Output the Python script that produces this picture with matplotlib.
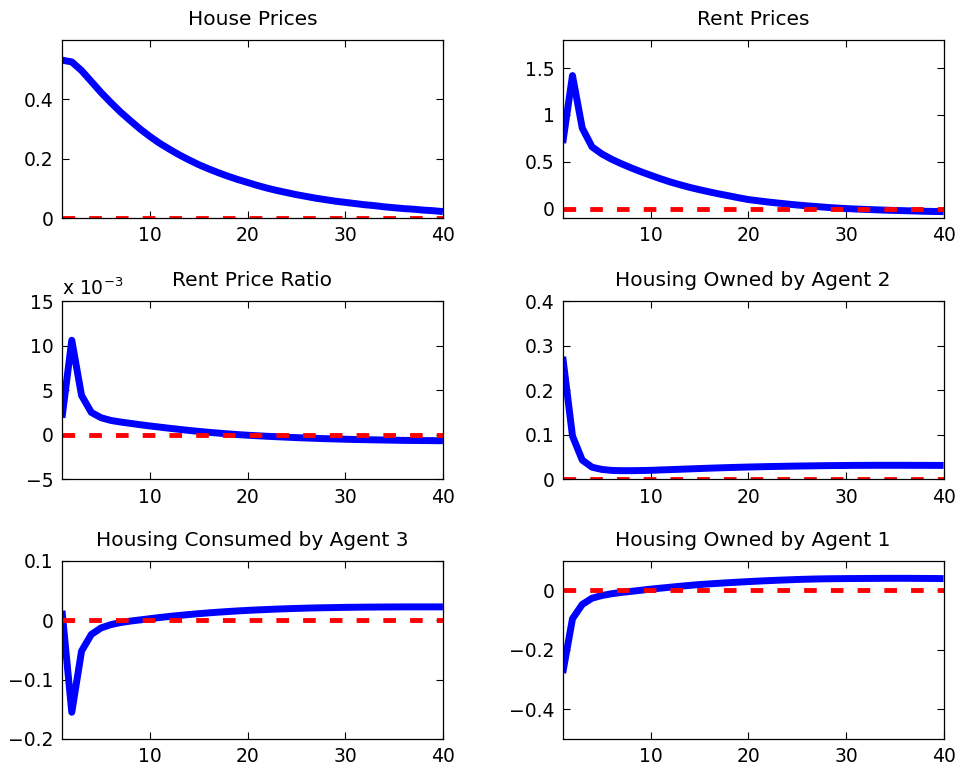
import numpy as np
import matplotlib
matplotlib.use("Agg")
import matplotlib.pyplot as plt
from matplotlib.ticker import FuncFormatter

plt.rcParams['font.family'] = ['DejaVu Sans']

# === 1. Impulse responses (periods 1..40) ===
periods = list(range(1, 41))

house_prices = [0.532, 0.526, 0.497, 0.460, 0.423, 0.389, 0.357, 0.328, 0.300, 0.275,
                0.252, 0.232, 0.213, 0.196, 0.180, 0.166, 0.153, 0.141, 0.130, 0.120,
                0.110, 0.101, 0.093, 0.086, 0.079, 0.073, 0.067, 0.062, 0.057, 0.053,
                0.049, 0.045, 0.042, 0.038, 0.035, 0.032, 0.030, 0.027, 0.025, 0.022]

rent_prices = [0.70, 1.42, 0.86, 0.66, 0.585, 0.528, 0.48, 0.436, 0.395, 0.357,
               0.32, 0.286, 0.256, 0.228, 0.203, 0.18, 0.158, 0.138, 0.117, 0.098,
               0.085, 0.072, 0.061, 0.050, 0.040, 0.031, 0.023, 0.015, 0.008, 0.002,
               -0.003, -0.007, -0.011, -0.015, -0.018, -0.021, -0.024, -0.027, -0.029, -0.031]

rent_price_ratio = [1.9e-3, 10.6e-3, 4.4e-3, 2.5e-3, 1.9e-3, 1.6e-3, 1.42e-3, 1.27e-3, 1.12e-3, 0.98e-3,
                    0.85e-3, 0.72e-3, 0.60e-3, 0.48e-3, 0.37e-3, 0.27e-3, 0.18e-3, 0.09e-3, 0.01e-3, -0.06e-3,
                    -0.12e-3, -0.18e-3, -0.23e-3, -0.28e-3, -0.33e-3, -0.37e-3, -0.41e-3, -0.45e-3, -0.48e-3, -0.51e-3,
                    -0.54e-3, -0.56e-3, -0.58e-3, -0.60e-3, -0.62e-3, -0.64e-3, -0.65e-3, -0.66e-3, -0.67e-3, -0.68e-3]

owned_agent2 = [0.275, 0.097, 0.043, 0.027, 0.022, 0.0198, 0.0192, 0.0192, 0.0195, 0.020,
                0.0208, 0.0216, 0.0224, 0.0232, 0.024, 0.0248, 0.0255, 0.0262, 0.0268, 0.0274,
                0.0279, 0.0284, 0.0288, 0.0292, 0.0296, 0.0299, 0.0302, 0.0305, 0.0307, 0.0309,
                0.0311, 0.0312, 0.0313, 0.0313, 0.0313, 0.0313, 0.0312, 0.0312, 0.0311, 0.031]

consumed_agent3 = [0.016, -0.155, -0.052, -0.024, -0.013, -0.0075, -0.004, -0.0015, 0.0005, 0.0025,
                   0.0045, 0.0063, 0.008, 0.0095, 0.011, 0.0123, 0.0135, 0.0146, 0.0156, 0.0165,
                   0.0173, 0.018, 0.0187, 0.0193, 0.0198, 0.0203, 0.0207, 0.021, 0.0213, 0.0216,
                   0.0218, 0.022, 0.0221, 0.0222, 0.0223, 0.0224, 0.0224, 0.0224, 0.0224, 0.0224]

owned_agent1 = [-0.278, -0.095, -0.047, -0.026, -0.017, -0.011, -0.0065, -0.003, 0.0008, 0.0045,
                0.0078, 0.011, 0.0142, 0.0172, 0.020, 0.0222, 0.0243, 0.0263, 0.0282, 0.030,
                0.0316, 0.0331, 0.0345, 0.0358, 0.037, 0.038, 0.0388, 0.0394, 0.0398, 0.0401,
                0.0403, 0.0405, 0.0407, 0.0409, 0.041, 0.041, 0.0408, 0.0406, 0.0404, 0.040]

titles = ["House Prices", "Rent Prices", "Rent Price Ratio",
          "Housing Owned by Agent 2", "Housing Consumed by Agent 3", "Housing Owned by Agent 1"]
series = [house_prices, rent_prices, rent_price_ratio,
          owned_agent2, consumed_agent3, owned_agent1]
ylims = [(0, 0.6), (-0.1, 1.8), (-5e-3, 15e-3), (0, 0.4), (-0.2, 0.1), (-0.5, 0.1)]
yticks = [[0, 0.2, 0.4], [0, 0.5, 1, 1.5], [-5e-3, 0, 5e-3, 10e-3, 15e-3],
          [0, 0.1, 0.2, 0.3, 0.4], [-0.2, -0.1, 0, 0.1], [-0.4, -0.2, 0]]

# === 2. Plot ===
fig = plt.figure(figsize=(9.57, 7.68), dpi=100)
lefts = [0.0648, 0.588]
bottoms = [0.716, 0.376, 0.0378]

for i, (title, y) in enumerate(zip(titles, series)):
    row, col = divmod(i, 2)
    ax = fig.add_axes([lefts[col], bottoms[row], 0.398, 0.232])
    ax.plot(periods, y, color='#0000ff', lw=5, solid_capstyle='butt')
    ax.plot(periods, np.zeros(len(periods)), color='#ff0000', lw=3.5,
            dashes=(2.6, 2.9), dash_capstyle='butt')
    ax.set_xlim(1, 40)
    ax.set_ylim(*ylims[i])
    ax.set_xticks([10, 20, 30, 40])
    ax.set_yticks(yticks[i])
    ax.set_title(title, fontsize=14.5, pad=11)
    ax.tick_params(direction='in', top=True, right=True, length=5, width=0.8,
                   labelsize=13.5, pad=6)
    for s in ax.spines.values():
        s.set_linewidth(0.9)
    if i == 2:
        ax.yaxis.set_major_formatter(FuncFormatter(lambda v, p: f"{v * 1e3:g}".replace('-', '\u2212')))
        ax.text(0.0, 1.01, r"x 10$^{-3}$", transform=ax.transAxes,
                ha='left', va='bottom', fontsize=13.5)
    else:
        ax.yaxis.set_major_formatter(FuncFormatter(lambda v, p: f"{v:g}".replace('-', '\u2212')))

plt.savefig("out.png", dpi=100)
